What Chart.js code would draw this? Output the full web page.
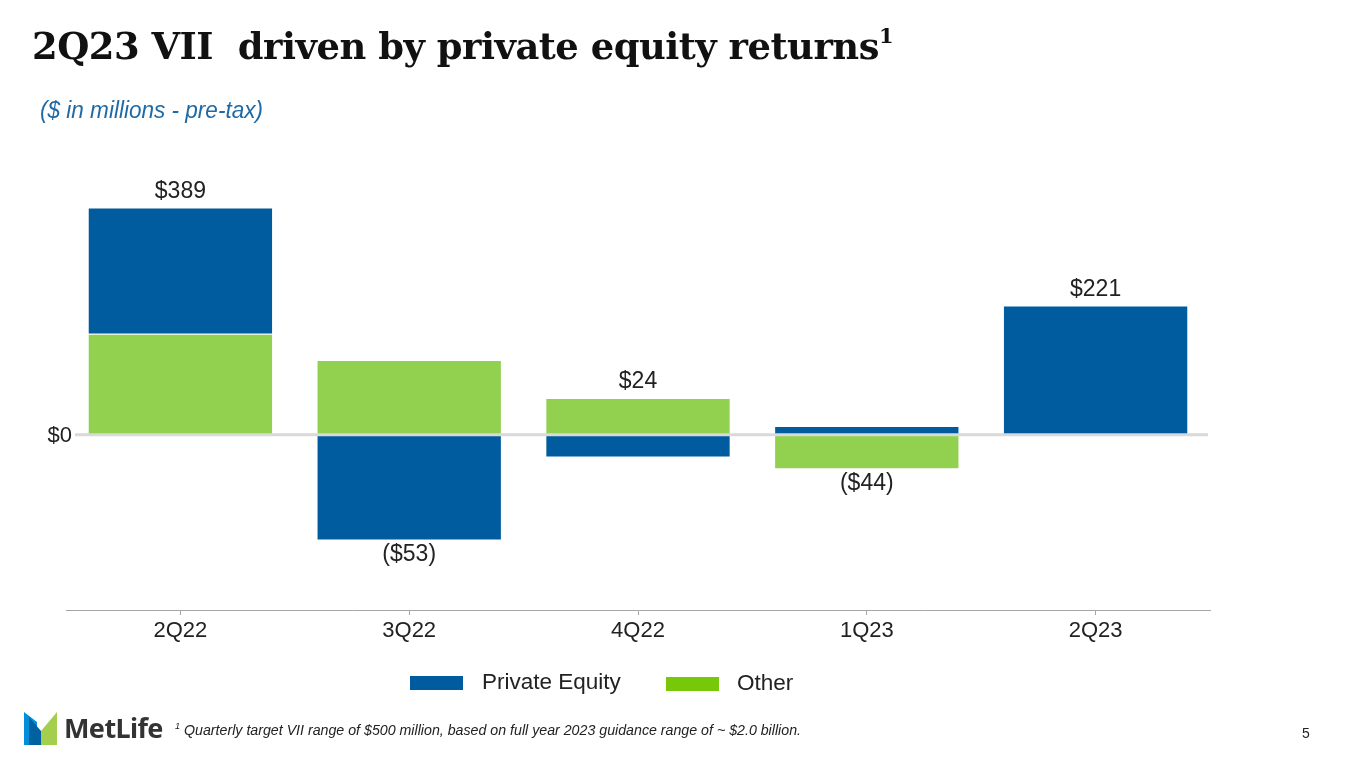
<!DOCTYPE html>
<html>
<head>
<meta charset="utf-8">
<title>2Q23 VII</title>
<script src="https://cdn.jsdelivr.net/npm/chart.js@4.4.0/dist/chart.umd.min.js"></script>
<style>
  html, body { margin: 0; padding: 0; background: #fff; }
  body { width: 1365px; height: 769px; position: relative; overflow: hidden; font-family: "Liberation Sans", Arial, sans-serif; }
  #chartBox { position: absolute; left: 0; top: 0; width: 1365px; height: 769px; }
  .abs { position: absolute; white-space: nowrap; }
  #title { left: 32px; top: 24px; font-family: "DejaVu Serif", serif; font-weight: bold; font-size: 37px; color: #111; transform-origin: left top; letter-spacing: -0.5px; }
  #title sup { font-size: 21px; vertical-align: 16px; line-height: 0; }
  #subtitle { left: 40px; top: 97px; font-size: 23px; font-style: italic; color: #1f6aa5; transform-origin: left top; }
  .legBox { position: absolute; width: 53px; height: 14px; }
  .legText { position: absolute; font-size: 22.5px; color: #222; line-height: 26px; }
  #footnote { left: 175px; top: 722px; font-size: 14px; font-style: italic; color: #222; transform-origin: left top; }
  #footnote sup { font-size: 9px; vertical-align: 6px; line-height: 0; }
  #page { left: 1302px; top: 725px; font-size: 14px; color: #222; }
  #logoText { left: 64px; top: 709px; font-family: "Noto Sans", sans-serif; font-weight: bold; font-size: 27px; color: #333; letter-spacing: -0.6px; }
</style>
</head>
<body>
<div id="chartBox"><canvas id="myChart"></canvas></div>

<div id="title" class="abs">2Q23 VII&nbsp; driven by private equity returns<sup>1</sup></div>
<div id="subtitle" class="abs">($ in millions - pre-tax)</div>

<div class="legBox" style="left:410px; top:676px; background:#005c9e;"></div>
<div class="legText" style="left:482px; top:669px;">Private Equity</div>
<div class="legBox" style="left:666px; top:677px; background:#78c80a;"></div>
<div class="legText" style="left:737px; top:670px;">Other</div>

<svg class="abs" style="left:24px; top:712px;" width="33" height="33" viewBox="0 0 33 33">
  <polygon points="0,0 0,33 13,33 13,10" fill="#0090da"/>
  <polygon points="5,5 17,19 17,33 5,33" fill="#0061a0"/>
  <polygon points="17,19 33,0 33,33 17,33" fill="#a4ce4e"/>
</svg>
<div id="logoText" class="abs">MetLife</div>
<div id="footnote" class="abs"><sup>1</sup> Quarterly target VII range of $500 million, based on full year 2023 guidance range of ~ $2.0 billion.</div>
<div id="page" class="abs">5</div>

<script>
// quarters shown on the x axis
const quarters = ['2Q22', '3Q22', '4Q22', '1Q23', '2Q23'];

// VII by source ($ in millions, pre-tax)
const privateEquity = [216, -181, -39, 15, 221];
const other = [173, 128, 63, -59, 0];

// totals printed over / under each bar
const totals = [389, -53, 24, -44, 221];

const blue = '#005c9e';
const green = '#92d050';
const labelFont = '"Liberation Sans", Arial, sans-serif';

// squeeze the slide texts to the widths they have on the slide
function fitWidth(id, w) {
    const el = document.getElementById(id);
    const cur = el.getBoundingClientRect().width;
    el.style.transform = 'scaleX(' + (w / cur) + ')';
}
fitWidth('title', 861);
fitWidth('subtitle', 223);
fitWidth('footnote', 626);

function fmtMoney(v) {
    return v < 0 ? '($' + Math.abs(v) + ')' : '$' + v;
}

// grey line across at $0, with its label
const zeroLine = {
    id: 'zeroLine',
    afterDatasetsDraw(chart) {
        const y = chart.scales.y.getPixelForValue(0);
        const ctx = chart.ctx;
        ctx.save();
        ctx.strokeStyle = '#d9d9d9';
        ctx.lineWidth = 3;
        ctx.beginPath();
        ctx.moveTo(chart.chartArea.left + 9, y);
        ctx.lineTo(chart.chartArea.right - 2, y);
        ctx.stroke();
        ctx.font = '22px ' + labelFont;
        ctx.fillStyle = '#222';
        ctx.textAlign = 'right';
        ctx.textBaseline = 'middle';
        ctx.fillText('$0', chart.chartArea.left + 6, y + 1);
        ctx.restore();
    }
};

// total label above the stack (or below when negative)
const totalLabels = {
    id: 'totalLabels',
    afterDraw(chart) {
        const ctx = chart.ctx;
        const metas = chart.getSortedVisibleDatasetMetas();
        ctx.save();
        ctx.font = '23px ' + labelFont;
        ctx.fillStyle = '#222';
        ctx.textAlign = 'center';
        ctx.textBaseline = 'middle';
        totals.forEach((t, i) => {
            let top = Infinity, bottom = -Infinity, x = 0;
            metas.forEach(m => {
                const p = m.data[i].getProps(['x', 'y', 'base'], true);
                x = p.x;
                top = Math.min(top, p.y, p.base);
                bottom = Math.max(bottom, p.y, p.base);
            });
            const y = t >= 0 ? top - 16 : bottom + 14;
            ctx.fillText(fmtMoney(t), x, y);
        });
        ctx.restore();
    }
};

const config = {
    type: 'bar',
    data: {
        labels: quarters,
        datasets: [{
            label: 'Other',
            data: other,
            backgroundColor: green,
            borderColor: '#fff',
            borderWidth: 1
        }, {
            label: 'Private Equity',
            data: privateEquity,
            backgroundColor: blue,
            borderColor: '#fff',
            borderWidth: 1
        }]
    },
    options: {
        responsive: true,
        maintainAspectRatio: false,
        animation: false,
        datasets: {
            bar: { categoryPercentage: 0.81, barPercentage: 1 }
        },
        layout: {
            padding: { top: 201, right: 155, bottom: 119, left: 0 }
        },
        plugins: {
            legend: { display: false },
            tooltip: { enabled: false }
        },
        scales: {
            x: {
                stacked: true,
                grid: {
                    offset: false,
                    drawOnChartArea: false,
                    drawTicks: true,
                    tickLength: 5,
                    color: '#a6a6a6'
                },
                border: { display: true, color: '#a6a6a6', width: 1 },
                ticks: {
                    padding: 3,
                    color: '#222',
                    font: { size: 22, family: labelFont }
                },
                afterFit(scale) { scale.height = 40; }
            },
            y: {
                stacked: true,
                min: -300,
                max: 400,
                grid: { display: false, drawTicks: false },
                border: { display: false },
                ticks: { display: false },
                afterFit(scale) { scale.width = 66; }
            }
        }
    },
    plugins: [zeroLine, totalLabels]
};

let myChart = new Chart(document.getElementById('myChart').getContext('2d'), config);
</script>
</body>
</html>
